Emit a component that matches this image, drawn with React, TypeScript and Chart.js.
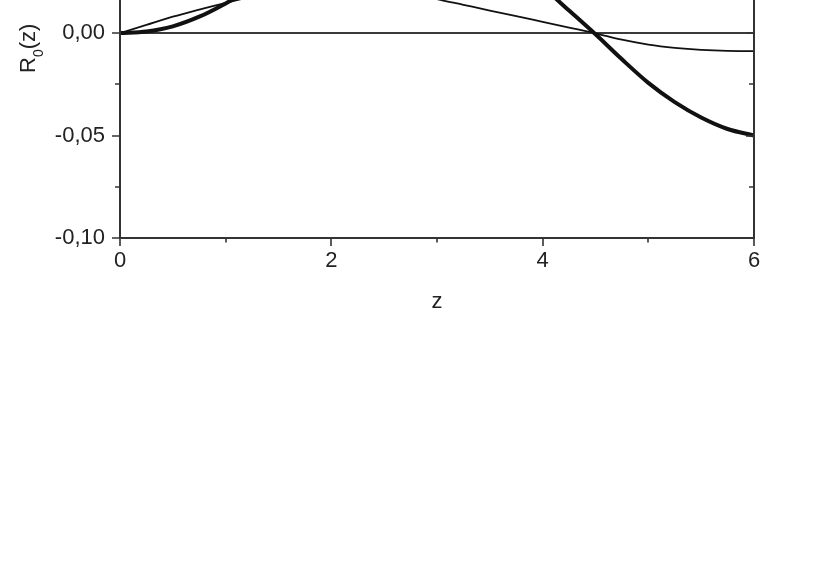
import React, { useEffect, useRef } from "react";
import { Chart, registerables } from "chart.js";

Chart.register(...registerables);

// ---- data ----
const zValues = [0, 0.25, 0.5, 0.75, 1.0, 1.25, 1.5, 1.75, 2.0, 2.25, 2.5, 2.75, 3.0, 3.25, 3.5, 3.75, 4.0, 4.25, 4.5, 4.75, 5.0, 5.25, 5.5, 5.75, 6.0];
const thickSeries = [0, 0.0008, 0.0033, 0.008, 0.0145, 0.022, 0.03, 0.0375, 0.044, 0.049, 0.052, 0.053, 0.0515, 0.0475, 0.041, 0.0325, 0.0225, 0.011, -0.0006, -0.0128, -0.0243, -0.0337, -0.0412, -0.0468, -0.05];
const thinSeries = [0, 0.004, 0.008, 0.0115, 0.0148, 0.0178, 0.0202, 0.022, 0.023, 0.0232, 0.0225, 0.0198, 0.0166, 0.0138, 0.011, 0.0083, 0.0055, 0.0027, -0.0001, -0.0032, -0.0056, -0.0072, -0.0082, -0.0087, -0.0088];

const xMajorTicks = [0, 2, 4, 6];
const xMinorTicks = [1, 3, 5];
const yMajorTicks = [-0.1, -0.05, 0, 0.05, 0.1];
const yMinorTicks = [-0.075, -0.025, 0.025, 0.075];

const xTitle = "z";
const yTitleMain = "R";
const yTitleSub = "0";
const yTitleEnd = "(z)";

const FONT = "'Liberation Sans', Arial, Helvetica, sans-serif";
const TEXT = "#222";
const AXIS = "#333";
const OFFSET_TOP = 200; // canvas shifted up; top of the plot is cropped like the reference

const framePlugin = {
  id: "frameAndTitles",
  beforeDatasetsDraw(chart: any) {
    const { ctx, chartArea: a, scales } = chart;
    const y0 = Math.round(scales.y.getPixelForValue(0));
    ctx.save();
    ctx.strokeStyle = "#3a3a3a";
    ctx.lineWidth = 2;
    ctx.beginPath();
    ctx.moveTo(a.left, y0);
    ctx.lineTo(a.right, y0);
    ctx.stroke();
    ctx.restore();
  },
  afterDatasetsDraw(chart: any) {
    const { ctx, chartArea: a, scales } = chart;
    const xs = scales.x;
    const ys = scales.y;
    ctx.save();
    ctx.strokeStyle = AXIS;
    ctx.lineWidth = 2;
    ctx.lineCap = "butt";
    // frame
    ctx.beginPath();
    ctx.rect(a.left, a.top, a.right - a.left, a.bottom - a.top);
    ctx.stroke();
    // ticks
    ctx.lineWidth = 1.6;
    ctx.beginPath();
    xMajorTicks.forEach((v) => {
      const px = Math.round(xs.getPixelForValue(v));
      ctx.moveTo(px, a.bottom);
      ctx.lineTo(px, a.bottom + 8);
      ctx.moveTo(px, a.top);
      ctx.lineTo(px, a.top + 8);
    });
    xMinorTicks.forEach((v) => {
      const px = Math.round(xs.getPixelForValue(v));
      ctx.moveTo(px, a.bottom);
      ctx.lineTo(px, a.bottom + 4.5);
      ctx.moveTo(px, a.top);
      ctx.lineTo(px, a.top + 4.5);
    });
    yMajorTicks.forEach((v) => {
      const py = Math.round(ys.getPixelForValue(v));
      ctx.moveTo(a.left, py);
      ctx.lineTo(a.left - 8, py);
      ctx.moveTo(a.right, py);
      ctx.lineTo(a.right - 8, py);
    });
    yMinorTicks.forEach((v) => {
      const py = Math.round(ys.getPixelForValue(v));
      ctx.moveTo(a.left, py);
      ctx.lineTo(a.left - 5, py);
      ctx.moveTo(a.right, py);
      ctx.lineTo(a.right - 5, py);
    });
    ctx.stroke();

    // x title
    ctx.fillStyle = TEXT;
    ctx.font = `22px ${FONT}`;
    ctx.textAlign = "center";
    ctx.textBaseline = "alphabetic";
    ctx.fillText(xTitle, (a.left + a.right) / 2, OFFSET_TOP + 308);

    // y title (rotated, with subscript)
    ctx.save();
    ctx.translate(35, OFFSET_TOP + 73);
    ctx.rotate(-Math.PI / 2);
    ctx.textAlign = "left";
    ctx.font = `22px ${FONT}`;
    ctx.fillText(yTitleMain, 0, 0);
    let w = ctx.measureText(yTitleMain).width;
    ctx.font = `14px ${FONT}`;
    ctx.fillText(yTitleSub, w, 8);
    w += ctx.measureText(yTitleSub).width;
    ctx.font = `22px ${FONT}`;
    ctx.fillText(yTitleEnd, w, 0);
    ctx.restore();

    ctx.restore();
  },
};

export default function App() {
  const canvasRef = useRef<HTMLCanvasElement | null>(null);

  useEffect(() => {
    if (!canvasRef.current) return;
    const thick = zValues.map((z, i) => ({ x: z, y: thickSeries[i] }));
    const thin = zValues.map((z, i) => ({ x: z, y: thinSeries[i] }));
    const chart = new Chart(canvasRef.current, {
      type: "line",
      data: {
        datasets: [
          {
            label: "thick",
            data: thick,
            borderColor: "#111",
            borderWidth: 4,
            pointRadius: 0,
            cubicInterpolationMode: "monotone",
            fill: false,
          },
          {
            label: "thin",
            data: thin,
            borderColor: "#111",
            borderWidth: 1.8,
            pointRadius: 0,
            cubicInterpolationMode: "monotone",
            fill: false,
          },
        ],
      },
      options: {
        animation: false,
        responsive: false,
        maintainAspectRatio: false,
        devicePixelRatio: 1,
        layout: { padding: { top: 28, right: 76, bottom: 281, left: 0 } },
        plugins: { legend: { display: false }, tooltip: { enabled: false }, title: { display: false } },
        scales: {
          x: {
            type: "linear",
            min: 0,
            max: 6,
            grid: { display: false, drawTicks: false },
            border: { display: false },
            ticks: {
              stepSize: 2,
              padding: 10,
              color: TEXT,
              font: { family: FONT, size: 22 },
              maxRotation: 0,
              callback: (v: any) => String(v),
            },
            afterFit: (s: any) => {
              s.height = 60;
            },
          },
          y: {
            type: "linear",
            min: -0.1,
            max: 0.1,
            grid: { display: false, drawTicks: false },
            border: { display: false },
            ticks: {
              stepSize: 0.05,
              padding: 15,
              color: TEXT,
              font: { family: FONT, size: 22 },
              callback: (v: any) => {
                const n = Math.abs(v) < 1e-9 ? 0 : Number(v);
                return n.toFixed(2).replace(".", ",");
              },
            },
            afterFit: (s: any) => {
              s.width = 120;
            },
          },
        },
      },
      plugins: [framePlugin],
    } as any);
    return () => chart.destroy();
  }, []);

  return (
    <div style={{ position: "absolute", left: 0, top: 0, width: 830, height: 579, overflow: "hidden", background: "#fff" }}>
      <canvas
        ref={canvasRef}
        width={830}
        height={579 + OFFSET_TOP}
        style={{ position: "absolute", left: 0, top: -OFFSET_TOP, width: 830, height: 579 + OFFSET_TOP, display: "block" }}
      />
    </div>
  );
}
